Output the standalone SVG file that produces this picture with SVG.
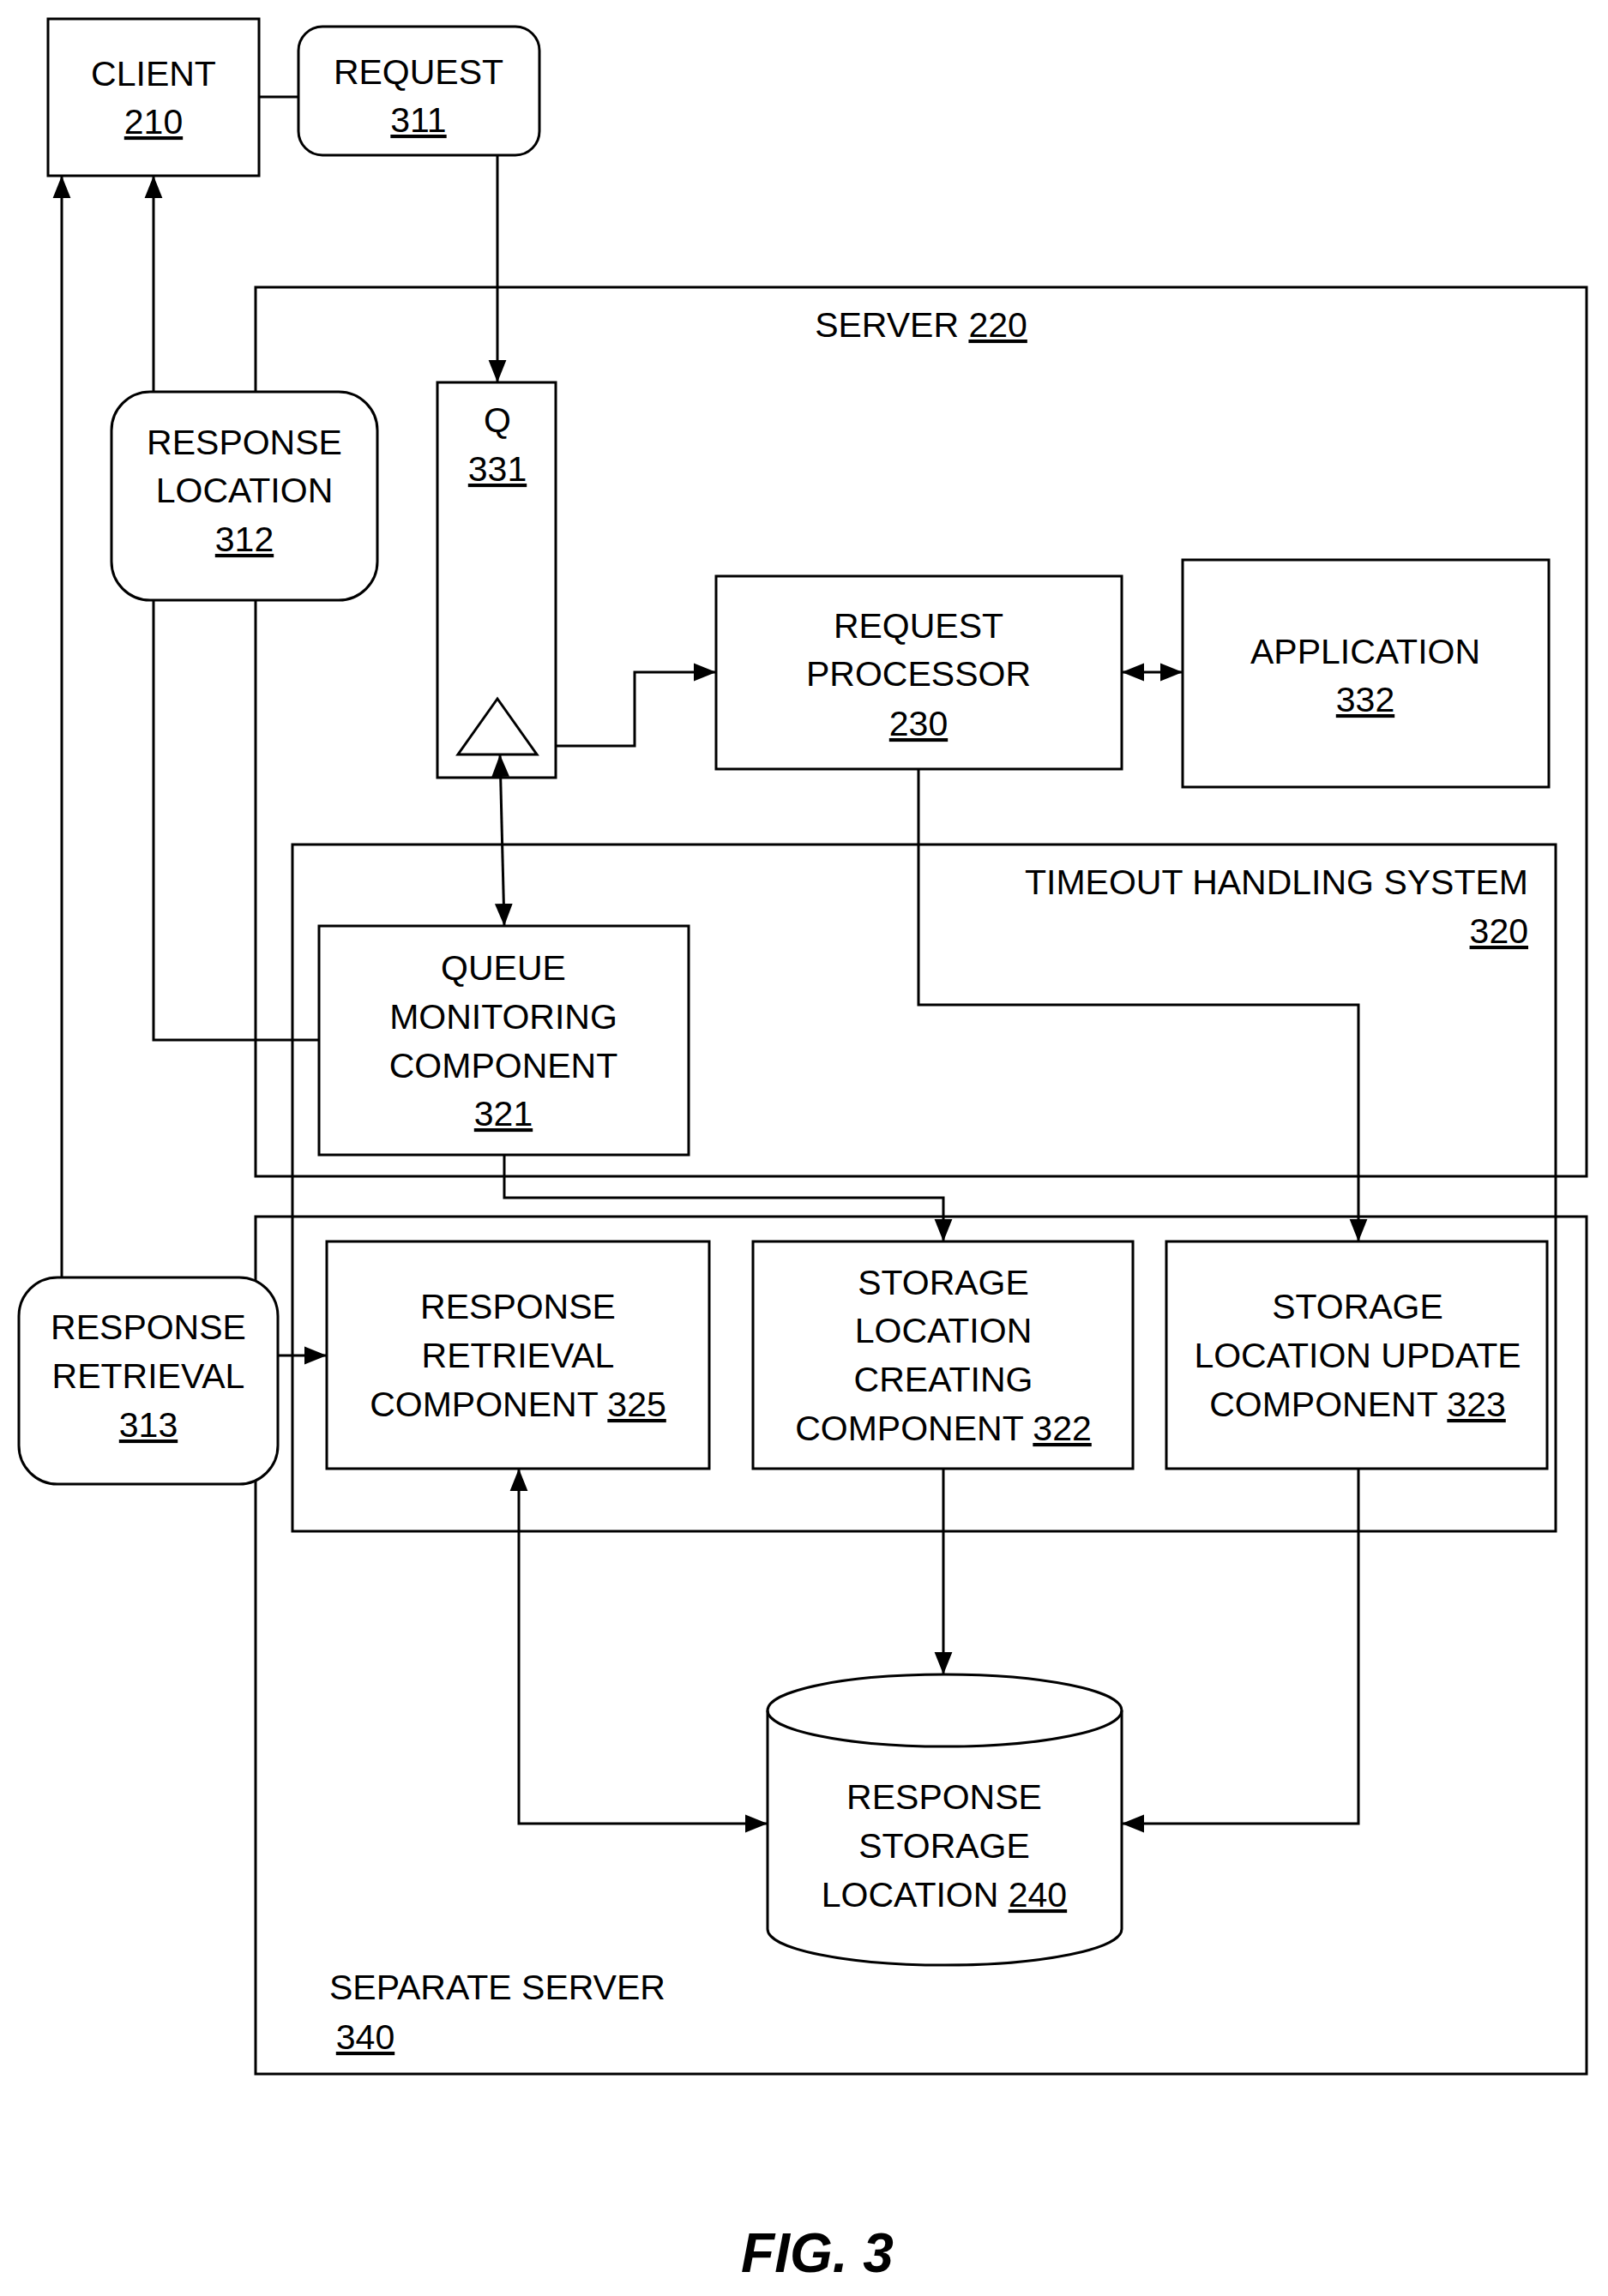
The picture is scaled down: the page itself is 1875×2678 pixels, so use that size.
<svg xmlns="http://www.w3.org/2000/svg" width="1875" height="2678" viewBox="0 0 1875 2678">
<style>
.b{fill:#fff;stroke:#000;stroke-width:3}
.f{fill:none;stroke:#000;stroke-width:3}
text{font-family:"Liberation Sans",Arial,sans-serif;font-size:41px;text-anchor:middle;fill:#000}
.u{text-decoration:underline}
.c line,.c polyline{fill:none;stroke:#000;stroke-width:3}
</style>
<defs>
<marker id="m" viewBox="0 0 10 10" refX="10" refY="5" markerWidth="26" markerHeight="26" markerUnits="userSpaceOnUse" orient="auto-start-reverse"><path d="M0,1L10,5L0,9z"/></marker>
</defs>
<g id="server220"><rect class="f" x="298" y="335" width="1552" height="1037"/><text x="1074" y="393">SERVER <tspan class="u">220</tspan></text></g>
<g id="separate340"><rect class="f" x="298" y="1419" width="1552" height="1000"/><text x="384" y="2332" style="text-anchor:start">SEPARATE SERVER</text><text x="426" y="2390" class="u">340</text></g>
<g id="timeout320"><rect class="f" x="341" y="985" width="1473" height="801"/><text x="1782" y="1043" style="text-anchor:end">TIMEOUT HANDLING SYSTEM</text><text x="1782" y="1100" style="text-anchor:end" class="u">320</text></g>
<g id="client210"><rect class="b" x="56" y="22" width="246" height="183"/><text x="179" y="100">CLIENT</text><text x="179" y="156" class="u">210</text></g>
<g id="request311"><rect class="b" x="348" y="31" width="281" height="150" rx="28"/><text x="488" y="98">REQUEST</text><text x="488" y="154" class="u">311</text></g>
<g id="q331"><rect class="b" x="510" y="446" width="138" height="461"/><text x="580" y="504">Q</text><text x="580" y="561" class="u">331</text><polygon class="b" points="580,815 534,880 626,880"/></g>
<g id="rp230"><rect class="b" x="835" y="672" width="473" height="225"/><text x="1071" y="744">REQUEST</text><text x="1071" y="800">PROCESSOR</text><text x="1071" y="858" class="u">230</text></g>
<g id="app332"><rect class="b" x="1379" y="653" width="427" height="265"/><text x="1592" y="774">APPLICATION</text><text x="1592" y="830" class="u">332</text></g>
<g id="qmc321"><rect class="b" x="372" y="1080" width="431" height="267"/><text x="587" y="1143">QUEUE</text><text x="587" y="1200">MONITORING</text><text x="587" y="1257">COMPONENT</text><text x="587" y="1313" class="u">321</text></g>
<g id="rr313"><rect class="b" x="22" y="1490" width="302" height="241" rx="45"/><text x="173" y="1562">RESPONSE</text><text x="173" y="1619">RETRIEVAL</text><text x="173" y="1676" class="u">313</text></g>
<g id="rrc325"><rect class="b" x="381" y="1448" width="446" height="265"/><text x="604" y="1538">RESPONSE</text><text x="604" y="1595">RETRIEVAL</text><text x="604" y="1652">COMPONENT <tspan class="u">325</tspan></text></g>
<g id="slcc322"><rect class="b" x="878" y="1448" width="443" height="265"/><text x="1100" y="1510">STORAGE</text><text x="1100" y="1566">LOCATION</text><text x="1100" y="1623">CREATING</text><text x="1100" y="1680">COMPONENT <tspan class="u">322</tspan></text></g>
<g id="sluc323"><rect class="b" x="1360" y="1448" width="444" height="265"/><text x="1583" y="1538">STORAGE</text><text x="1583" y="1595">LOCATION UPDATE</text><text x="1583" y="1652">COMPONENT <tspan class="u">323</tspan></text></g>
<g id="db240"><path class="b" d="M895,1995 A206,42 0 0 1 1308,1995 V2250 A206,42 0 0 1 895,2250 Z"/><path class="f" d="M895,1995 A206,42 0 0 0 1308,1995"/><text x="1101" y="2110">RESPONSE</text><text x="1101" y="2167">STORAGE</text><text x="1101" y="2224">LOCATION <tspan class="u">240</tspan></text></g>
<g class="c" id="connectors">
<line x1="302" y1="113" x2="348" y2="113"/>
<line x1="580" y1="181" x2="580" y2="446" marker-end="url(#m)"/>
<polyline points="648,870 740,870 740,784 835,784" marker-end="url(#m)"/>
<line x1="1308" y1="784" x2="1379" y2="784" marker-start="url(#m)" marker-end="url(#m)"/>
<line x1="583" y1="880" x2="588" y2="1080" marker-start="url(#m)" marker-end="url(#m)"/>
<polyline points="1071,897 1071,1172 1584,1172 1584,1448" marker-end="url(#m)"/>
<polyline points="372,1213 179,1213 179,205" marker-end="url(#m)"/>
<line x1="72" y1="1490" x2="72" y2="205" marker-end="url(#m)"/>
<line x1="324" y1="1581" x2="381" y2="1581" marker-end="url(#m)"/>
<polyline points="588,1347 588,1397 1100,1397 1100,1448" marker-end="url(#m)"/>
<line x1="1100" y1="1713" x2="1100" y2="1953" marker-end="url(#m)"/>
<polyline points="605,1713 605,2127 895,2127" marker-start="url(#m)" marker-end="url(#m)"/>
<polyline points="1584,1713 1584,2127 1308,2127" marker-end="url(#m)"/>
</g>
<g id="resploc312"><rect class="b" x="130" y="457" width="310" height="243" rx="45"/><text x="285" y="530">RESPONSE</text><text x="285" y="586">LOCATION</text><text x="285" y="643" class="u">312</text></g>
<text x="953" y="2650" style="font-size:64px;font-weight:bold;font-style:italic">FIG. 3</text>
</svg>
